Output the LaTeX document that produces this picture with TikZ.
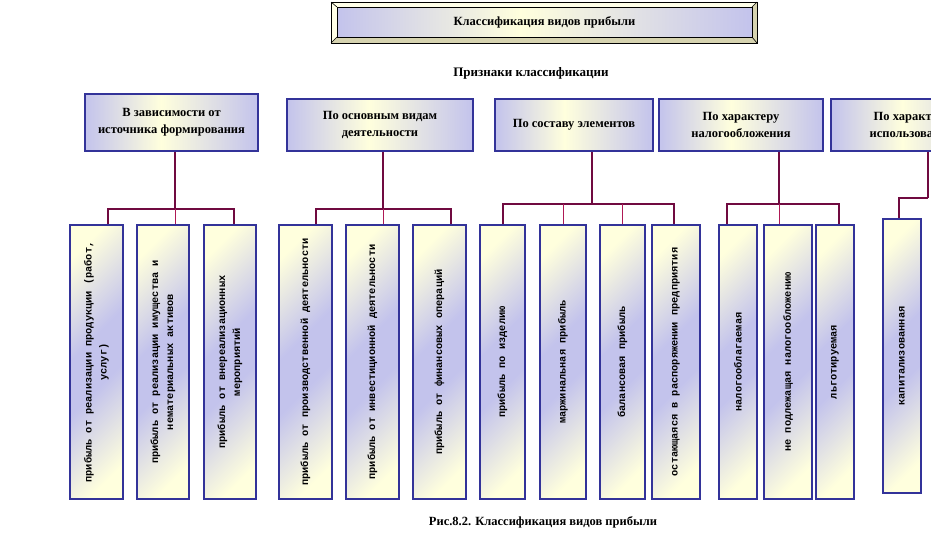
\documentclass[tikz,border=0pt]{standalone}
\usepackage{fontspec}
\setmainfont{Liberation Serif}
\newfontfamily\leaffont{Liberation Mono Bold}
\usepackage{graphicx}
\definecolor{lav}{RGB}{195,195,236}
\definecolor{yel}{RGB}{255,255,221}
\definecolor{bord}{RGB}{51,51,153}
\definecolor{conncol}{RGB}{112,10,64}
\definecolor{thincol}{RGB}{175,25,85}
\definecolor{bevlight}{RGB}{255,255,232}
\definecolor{bevdark}{RGB}{214,211,176}
\pgfdeclarehorizontalshading{hdrshade}{100bp}{color(0bp)=(lav); color(25bp)=(lav); color(47bp)=(yel); color(75bp)=(lav); color(100bp)=(lav)}
\pgfdeclarehorizontalshading{leafshade}{100bp}{color(0bp)=(yel); color(22bp)=(yel); color(44bp)=(lav); color(56bp)=(lav); color(78bp)=(yel); color(100bp)=(yel)}
\newcommand\vtxt[2]{\rotatebox{90}{\parbox{#1}{\centering\baselineskip=15pt #2}}}
\tikzset{
  hdr/.style={draw=bord, line width=1.2pt, shading=hdrshade, font=\bfseries\fontsize{12.5}{17}\selectfont, align=center, inner sep=0pt},
  leaf/.style={draw=bord, line width=1.2pt, shading=leafshade, shading angle=-45, font=\leaffont\fontsize{10.3}{15}\selectfont, inner sep=0pt, minimum height=274pt},
  conn/.style={draw=conncol, line width=2pt},
  thinc/.style={draw=thincol, line width=1pt},
  plain/.style={font=\bfseries\fontsize{12.5}{14}\selectfont, inner sep=0pt}
}
\begin{document}
\begin{tikzpicture}[x=1pt,y=-1pt]
\useasboundingbox (0,0) rectangle (931,555);
\clip (0,0) rectangle (931,555);
\fill[white] (0,0) rectangle (931,555);

% title frame with bevel
\fill[bevdark] (331,2) rectangle (757,43);
\fill[bevlight] (331,2) -- (757,2) -- (752,7) -- (337,7) -- (337,37) -- (331,43) -- cycle;
\draw[black, line width=0.6pt] (331,2) -- (337,7) (757,2) -- (752,7) (331,43) -- (337,37) (757,43) -- (752,37);
\draw[black, line width=1pt] (331,2) rectangle (757,43);
\node[draw=black, line width=1pt, shading=hdrshade, minimum width=415pt, minimum height=30pt, inner sep=0pt, font=\bfseries\fontsize{12.5}{14}\selectfont] (T) at (544.5,22) {Классификация видов прибыли};

\node[plain, font=\bfseries\fontsize{13}{15}\selectfont] (P) at (531,73) {Признаки классификации};

% headers
\node[hdr, minimum width=173pt, minimum height=57pt] (H1) at (171.5,122.5) {В зависимости от\\ источника формирования};
\node[hdr, minimum width=186pt, minimum height=52pt] (H2) at (380,125) {По основным видам\\ деятельности};
\node[hdr, minimum width=158pt, minimum height=52pt] (H3) at (574,125) {По составу элементов};
\node[hdr, minimum width=164pt, minimum height=52pt] (H4) at (741,125) {По характеру\\ налогообложения};
\node[hdr, minimum width=162pt, minimum height=52pt] (H5) at (912,125) {По характеру\\ использования};

% leaves
\node[leaf, minimum width=53pt] (L1) at (96.5,362) {\vtxt{262pt}{прибыль от реализации продукции (работ,\\ услуг)}};
\node[leaf, minimum width=52pt] (L2) at (163,362) {\vtxt{262pt}{прибыль от реализации имущества и\\ нематериальных активов}};
\node[leaf, minimum width=52pt] (L3) at (230,362) {\vtxt{262pt}{прибыль от внереализационных\\ мероприятий}};
\node[leaf, minimum width=53pt] (L4) at (305.5,362) {\vtxt{262pt}{прибыль от производственной деятельности}};
\node[leaf, minimum width=53pt] (L5) at (372.5,362) {\vtxt{262pt}{прибыль от инвестиционной деятельности}};
\node[leaf, minimum width=53pt] (L6) at (439.5,362) {\vtxt{262pt}{прибыль от финансовых операций}};
\node[leaf, minimum width=45pt] (L7) at (502.5,362) {\vtxt{262pt}{прибыль по изделию}};
\node[leaf, minimum width=46pt] (L8) at (563,362) {\vtxt{262pt}{маржинальная прибыль}};
\node[leaf, minimum width=45pt] (L9) at (622.5,362) {\vtxt{262pt}{балансовая прибыль}};
\node[leaf, minimum width=48pt] (L10) at (676,362) {\vtxt{262pt}{остающаяся в распоряжении предприятия}};
\node[leaf, minimum width=38pt] (L11) at (738,362) {\vtxt{262pt}{налогооблагаемая}};
\node[leaf, minimum width=48pt] (L12) at (788,362) {\vtxt{262pt}{не подлежащая налогообложению}};
\node[leaf, minimum width=38pt] (L13) at (835,362) {\vtxt{262pt}{льготируемая}};
\node[leaf, minimum width=38pt] (L14) at (902,356) {\vtxt{262pt}{капитализованная}};

% connectors group 1
\draw[conn] ([xshift=3.5pt]H1.south) -- ++(0,57) coordinate (b1);
\draw[conn] ([xshift=11.5pt]L1.north) |- (b1) -| ([xshift=4pt]L3.north);
\draw[thinc] (b1) -- ([xshift=12pt]L2.north);
% group 2
\draw[conn] ([xshift=3pt]H2.south) -- ++(0,57) coordinate (b2);
\draw[conn] ([xshift=10.5pt]L4.north) |- (b2) -| ([xshift=11.5pt]L6.north);
\draw[thinc] (b2) -- ([xshift=10.5pt]L5.north);
% group 3
\draw[conn] ([xshift=18pt]H3.south) -- ++(0,52) coordinate (b3);
\draw[conn] ([xshift=0.5pt]L7.north) |- (b3) -| ([xshift=-2pt]L10.north);
\draw[thinc] (L8.north) -- (L8.north |- b3);
\draw[thinc] ([xshift=-0.5pt]L9.north) -- ([xshift=-0.5pt]L9.north |- b3);
% group 4
\draw[conn] ([xshift=38pt]H4.south) -- ++(0,52) coordinate (b4);
\draw[conn] ([xshift=-11pt]L11.north) |- (b4) -| ([xshift=4pt]L13.north);
\draw[thinc] (b4) -- ([xshift=-9pt]L12.north);
% group 5
\draw[conn] ([xshift=16pt]H5.south) -- ++(0,46) coordinate (b5);
\draw[conn] (b5) -| ([xshift=-3pt]L14.north);

\node[plain] (C) at (543,522) {Рис.8.2. Классификация видов прибыли};
\end{tikzpicture}
\end{document}
